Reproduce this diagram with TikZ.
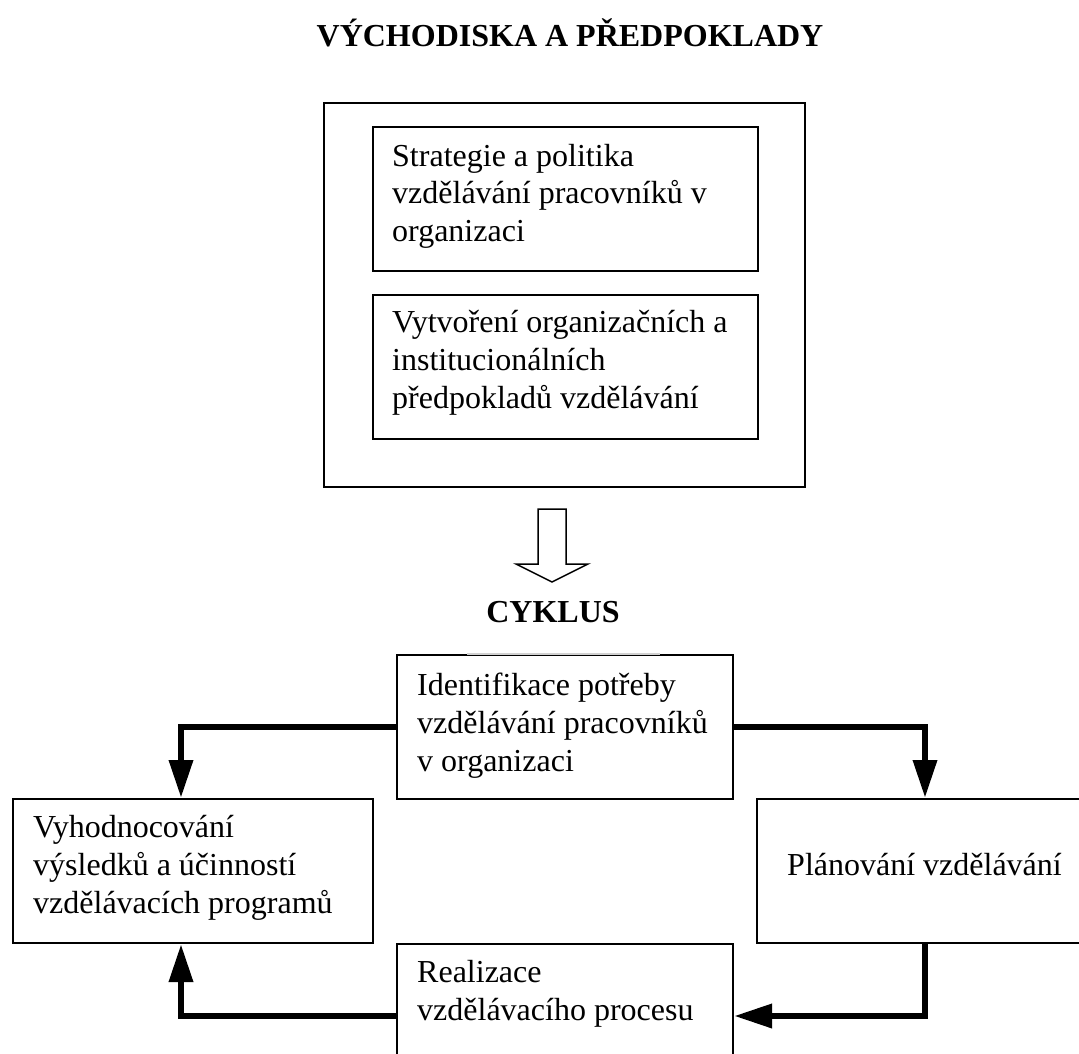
\documentclass[tikz,border=0pt]{standalone}
\usepackage{fontspec}
\setmainfont{Liberation Serif}
\usetikzlibrary{arrows.meta,calc}
\newcommand{\boxtext}[1]{\parbox[t]{420pt}{\raggedright\fontsize{32}{38}\selectfont #1}}
\begin{document}
\begin{tikzpicture}[x=1pt,y=-1pt,
  box/.style={draw, line width=2pt, rectangle, inner sep=0pt, anchor=north west},
  txt/.style={anchor=base west, inner sep=0pt},
  head/.style={anchor=base, inner sep=0pt, font=\fontsize{32}{38}\selectfont\bfseries},
  flow/.style={line width=6.5pt, -{Triangle[length=38pt,width=23pt]}}]
\clip (0,0) rectangle (1079,1054);
\fill[white] (0,0) rectangle (1079,1054);
% title
\node[head] (title) at (570,47) {VÝCHODISKA A PŘEDPOKLADY};
% upper block
\node[box, line width=2.2pt, minimum width=481pt, minimum height=384pt] (outer) at (323,102) {};
\node[box, minimum width=385pt, minimum height=144pt] (strat) at (372,126) {};
\node[box, minimum width=385pt, minimum height=144pt] (inst) at (372,294) {};
\node[txt] (strattxt) at (392,166) {\boxtext{Strategie a politika\\vzdělávání pracovníků v\\organizaci}};
\node[txt] (insttxt) at (392,332) {\boxtext{Vytvoření organizačních a\\institucionálních\\předpokladů vzdělávání}};
% hollow arrow
\draw[line width=1.5pt, line join=miter] (538,509) -- (566,509) -- (566,564) -- (588,564) -- (552,582) -- (516,564) -- (538,564) -- cycle;
\node[head] (cyklus) at (553,622) {CYKLUS};
% cycle boxes
\node[box, minimum width=336pt, minimum height=144pt] (ident) at (396,654) {};
\draw[line width=2.2pt, black!18] (467,654) -- (660,654);
\node[box, minimum width=360pt, minimum height=144pt] (left) at (12,798) {};
\node[box, minimum width=336pt, minimum height=144pt] (right) at (756,798) {};
\node[box, minimum width=336pt, minimum height=144pt] (real) at (396,943) {};
\node[txt] (identtxt) at (417,695) {\boxtext{Identifikace potřeby\\vzdělávání pracovníků\\v organizaci}};
\node[txt] (lefttxt) at (33,837) {\boxtext{Vyhodnocování\\výsledků a účinností\\vzdělávacích programů}};
\node[txt] (righttxt) at (787,875) {\boxtext{Plánování vzdělávání}};
\node[txt] (realtxt) at (417,982) {\boxtext{Realizace\\vzdělávacího procesu}};
% connectors
\draw[flow] (ident.west) -| ($(left.north)+(-12,0)$);
\draw[flow] (ident.east) -| (right.north);
\draw[flow] (right.south) |- (real.east);
\draw[flow] (real.west) -| ($(left.south)+(-12,0)$);
\end{tikzpicture}
\end{document}
